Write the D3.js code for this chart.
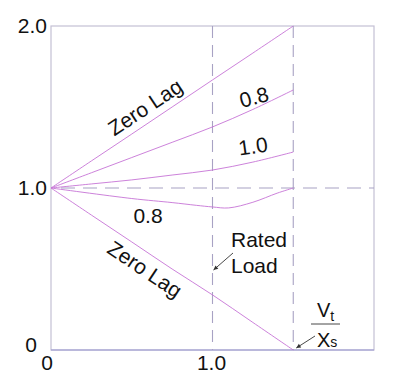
<!DOCTYPE html>
<html><head><meta charset="utf-8">
<script src="https://cdn.jsdelivr.net/npm/d3@7"></script>
<style>
html,body{margin:0;padding:0;background:#fff;}
svg{display:block;font-family:"Liberation Sans",Arial,sans-serif;}
</style></head>
<body>
<svg id="chart" width="400" height="376"></svg>
<script>
// ---- data ----
const xs = [0, 0.25, 0.5, 0.75, 1.0, 1.25, 1.5];
const zeroLagUpper = [1.0, 1.167, 1.333, 1.5, 1.667, 1.833, 2.0];
const lag08 = [1.0, 1.094, 1.188, 1.282, 1.377, 1.485, 1.605];
const unityPF = [1.0, 1.025, 1.05, 1.08, 1.111, 1.16, 1.222];
const zeroLagLower = [1.0, 0.833, 0.667, 0.5, 0.34, 0.17, 0.0];
const leadXs = [0, 0.5, 0.75, 0.9, 1.0, 1.1, 1.25, 1.4, 1.5];
const lead08 = [1.0, 0.935, 0.91, 0.893, 0.883, 0.877, 0.912, 0.968, 1.0];
const xTicks = [0, 1.0];
const xTickLabels = ["0", "1.0"];
const yTicks = [0, 1.0, 2.0];
const yTickLabels = ["0", "1.0", "2.0"];
const ratedLoad = 1.0;
const vtXs = 1.5;

// ---- setup ----
const svg = d3.select("#chart");
const x = d3.scaleLinear().domain([0, 2]).range([51, 374]);
const y = d3.scaleLinear().domain([0, 2]).range([350, 26]);

const frameCol = "#c4c0d4";
const dashCol = "#a8a2c4";
const curveCol = "#c674d6";

// frame
svg.append("rect").attr("x", x(0)).attr("y", y(2)).attr("width", x(2)-x(0)).attr("height", y(0)-y(2))
  .attr("fill", "none").attr("stroke", frameCol).attr("stroke-width", 1.2);
svg.append("line").attr("x1", x(0)).attr("x2", x(2)).attr("y1", y(0)).attr("y2", y(0))
  .attr("stroke", "#9a98d2").attr("stroke-width", 1.2);

// dashed reference lines
svg.append("line").attr("x1", x(0)+10).attr("x2", x(2)).attr("y1", y(1)).attr("y2", y(1))
  .attr("stroke", dashCol).attr("stroke-width", 1.1).attr("stroke-dasharray", "14,8");
[ratedLoad, vtXs].forEach(v => {
  svg.append("line").attr("x1", x(v)).attr("x2", x(v)).attr("y1", y(2)).attr("y2", y(0))
    .attr("stroke", dashCol).attr("stroke-width", 1.1).attr("stroke-dasharray", "12,7");
});

// curves
const line = d3.line().x(d => x(d[0])).y(d => y(d[1])).curve(d3.curveCatmullRom.alpha(0.5));
const series = [
  d3.zip(xs, zeroLagUpper),
  d3.zip(xs, lag08),
  d3.zip(xs, unityPF),
  d3.zip(leadXs, lead08),
  d3.zip(xs, zeroLagLower)
];
svg.selectAll("path.curve").data(series).join("path").attr("class", "curve")
  .attr("d", line).attr("fill", "none").attr("stroke", curveCol).attr("stroke-width", 0.9);

// tick labels
const fs = 21;
svg.selectAll("text.yt").data(yTicks).join("text").attr("class", "yt")
  .attr("x", d => d === 0 ? 37 : 47).attr("y", d => d === 0 ? y(d) + 2 : y(d) + 7)
  .attr("text-anchor", "end").attr("font-size", fs).attr("fill", "#111")
  .text((d, i) => yTickLabels[i]);
svg.selectAll("text.xt").data(xTicks).join("text").attr("class", "xt")
  .attr("x", d => d === 0 ? x(d) - 4 : x(d) - 1).attr("y", 370)
  .attr("text-anchor", "middle").attr("font-size", fs).attr("fill", "#111")
  .text((d, i) => xTickLabels[i]);

// curve labels
const labels = [
  {t: "Zero Lag", cx: 145, cy: 107, r: -33.7},
  {t: "0.8", cx: 254, cy: 97, r: -15},
  {t: "1.0", cx: 253, cy: 146, r: -8},
  {t: "0.8", cx: 148, cy: 215, r: 0},
  {t: "Zero Lag", cx: 145, cy: 269, r: 33.7}
];
svg.selectAll("text.lbl").data(labels).join("text").attr("class", "lbl")
  .attr("transform", d => `translate(${d.cx},${d.cy}) rotate(${d.r})`)
  .attr("text-anchor", "middle").attr("dy", "0.36em").attr("font-size", fs).attr("fill", "#111")
  .text(d => d.t);

// Rated Load annotation
svg.append("text").attr("x", 231).attr("y", 247).attr("font-size", fs).attr("fill", "#111").text("Rated");
svg.append("text").attr("x", 231).attr("y", 273).attr("font-size", fs).attr("fill", "#111").text("Load");
const ptr = (x1, y1, x2, y2) => {
  svg.append("line").attr("x1", x1).attr("y1", y1).attr("x2", x2).attr("y2", y2)
    .attr("stroke", "#333").attr("stroke-width", 0.9);
  const a = Math.atan2(y2 - y1, x2 - x1);
  const L = 5, w = 0.45;
  const p = [[x2, y2],
    [x2 - L*Math.cos(a - w), y2 - L*Math.sin(a - w)],
    [x2 - L*Math.cos(a + w), y2 - L*Math.sin(a + w)]];
  svg.append("path").attr("d", d3.line()(p) + "Z").attr("fill", "#333");
};
ptr(233, 253, x(ratedLoad) + 1, 270);

// Vt / Xs annotation
const g = svg.append("g");
g.append("text").attr("x", 317).attr("y", 317).attr("font-size", 20).attr("fill", "#111").text("V")
  .append("tspan").attr("font-size", 14).attr("dy", 4).text("t");
g.append("line").attr("x1", 311).attr("x2", 340).attr("y1", 324).attr("y2", 324).attr("stroke", "#333").attr("stroke-width", 0.9);
g.append("text").attr("x", 317).attr("y", 347).attr("font-size", 20).attr("fill", "#111").text("X")
  .append("tspan").attr("font-size", 14).attr("dy", 0).text("s");
ptr(315, 336, x(vtXs) + 3, y(0) - 2);
</script>
</body></html>
